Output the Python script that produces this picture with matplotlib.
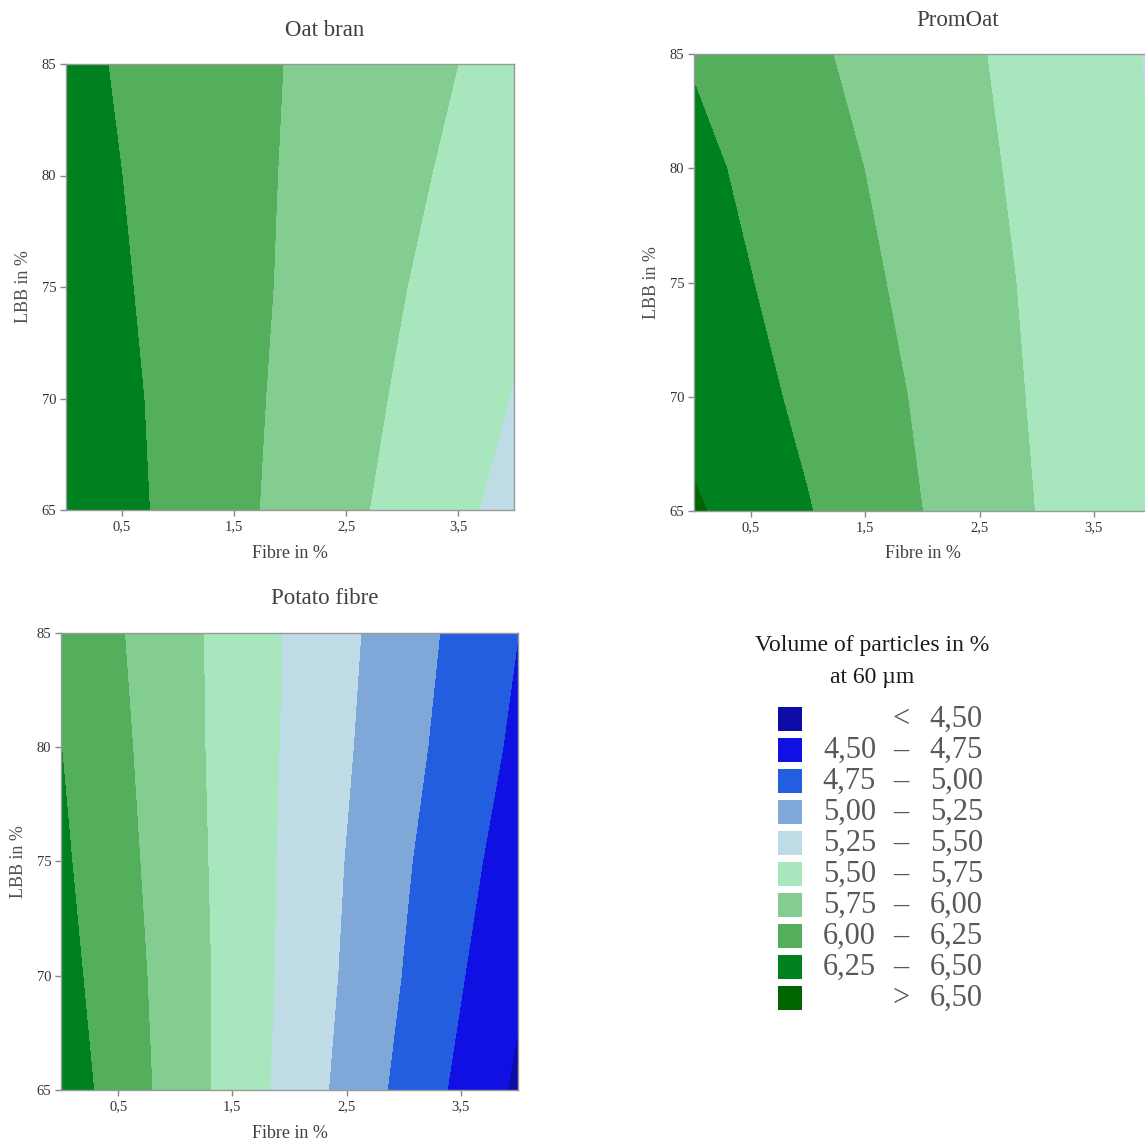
import numpy as np
import matplotlib
matplotlib.use("Agg")
import matplotlib.pyplot as plt
from matplotlib.patches import Rectangle

plt.rcParams['font.family'] = ['Liberation Serif', 'DejaVu Serif']

# grid of the response surfaces
fibre = [0, 1, 2, 3, 4]
lbb = [65, 70, 75, 80, 85]

oat_bran = [
    [6.44, 6.185, 5.93, 5.676, 5.42],
    [6.41, 6.18, 5.95, 5.72, 5.49],
    [6.37, 6.17, 5.97, 5.76, 5.54],
    [6.34, 6.16, 5.98, 5.80, 5.61],
    [6.31, 6.15, 5.99, 5.83, 5.67],
]
promoat = [
    [6.53, 6.26, 6.00, 5.745, 5.52],
    [6.42, 6.20, 5.97, 5.725, 5.51],
    [6.36, 6.15, 5.93, 5.71, 5.505],
    [6.31, 6.10, 5.895, 5.686, 5.495],
    [6.23, 6.04, 5.855, 5.668, 5.485],
]
potato = [
    [6.39, 5.90, 5.416, 4.93, 4.456],
    [6.335, 5.89, 5.44, 4.99, 4.541],
    [6.29, 5.87, 5.45, 5.03, 4.624],
    [6.252, 5.85, 5.465, 5.08, 4.70],
    [6.20, 5.84, 5.476, 5.114, 4.752],
]

levels = [4.50, 4.75, 5.00, 5.25, 5.50, 5.75, 6.00, 6.25, 6.50]
colors = ['#0e0ca6', '#1010e2', '#235ee0', '#7fa7d8', '#bedbe6',
          '#a8e6bd', '#82cd8f', '#53af5b', '#008120', '#006400']
xticks = [0.5, 1.5, 2.5, 3.5]
yticks = [65, 70, 75, 80, 85]

W, H = 1145, 1142
fig = plt.figure(figsize=(W / 100, H / 100), dpi=100)


def fx(px):
    return px / W


def fy(py):
    return 1 - py / H


def panel(rect, data, title):
    l, t, r, b = rect
    ax = fig.add_axes([fx(l), fy(b), (r - l) / W, (b - t) / H])
    X, Y = np.meshgrid(fibre, lbb)
    ax.contourf(X, Y, np.array(data), levels=[0] + levels + [10], colors=colors)
    ax.set_xlim(0, 4)
    ax.set_ylim(65, 85)
    ax.set_xticks(xticks)
    ax.set_xticklabels([f"{v:.1f}".replace('.', ',') for v in xticks])
    ax.set_yticks(yticks)
    ax.tick_params(direction='out', length=4, width=1, color='#888888',
                   labelsize=10.5, labelcolor='#333333', pad=3)
    for s in ax.spines.values():
        s.set_color('#999999')
        s.set_linewidth(1)
    w, h = r - l, b - t
    ax.text(0.5 + 35 / w, 1 + 34 / h, title, transform=ax.transAxes,
            ha='center', va='center', fontsize=16.5, color='#404040')
    ax.text(0.5, -43 / h, 'Fibre in %', transform=ax.transAxes,
            ha='center', va='center', fontsize=13, color='#404040')
    ax.text(-42 / w, 0.5, 'LBB in %', transform=ax.transAxes, rotation=90,
            ha='center', va='center', fontsize=13, color='#505050')
    return ax


panel((66, 64, 514, 510), oat_bran, 'Oat bran')
panel((694, 54, 1151, 511), promoat, 'PromOat')
panel((61, 633, 518, 1090), potato, 'Potato fibre')

# legend
fig.text(fx(872), fy(645), 'Volume of particles in %', ha='center', va='center',
         fontsize=17, color='#1a1a1a')
fig.text(fx(872), fy(677), 'at 60 µm', ha='center', va='center',
         fontsize=17, color='#1a1a1a')

fmt = lambda v: f"{v:.2f}".replace('.', ',')
fs = 22
for i, c in enumerate(colors):
    yc = 719 + 31 * i
    fig.add_artist(Rectangle((fx(778), fy(yc + 12)), 24 / W, 24 / H,
                             transform=fig.transFigure, facecolor=c,
                             edgecolor='none'))
    kw = dict(ha='right', va='center', fontsize=fs, color='#595959')
    mid = dict(ha='center', va='center', fontsize=fs, color='#595959')
    if i == 0:
        fig.text(fx(901), fy(yc), '<', **mid)
        fig.text(fx(983), fy(yc), fmt(levels[0]), **kw)
    elif i == len(colors) - 1:
        fig.text(fx(901), fy(yc), '>', **mid)
        fig.text(fx(983), fy(yc), fmt(levels[-1]), **kw)
    else:
        fig.text(fx(876), fy(yc), fmt(levels[i - 1]), **kw)
        fig.text(fx(901), fy(yc), '–', **mid)
        fig.text(fx(983), fy(yc), fmt(levels[i]), **kw)

fig.savefig('out.png', dpi=100)
